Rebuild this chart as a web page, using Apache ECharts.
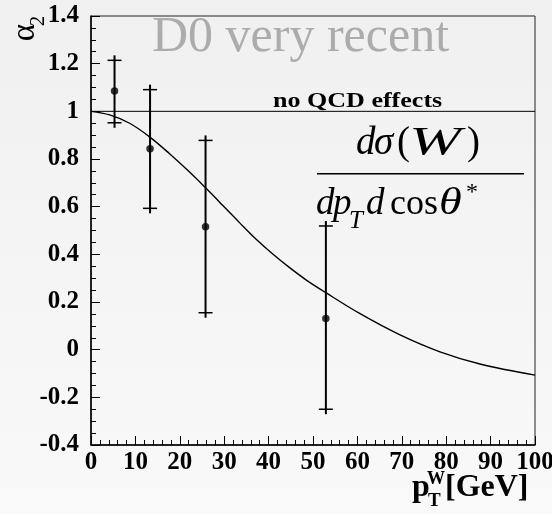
<!DOCTYPE html>
<html>
<head>
<meta charset="utf-8">
<script src="https://cdn.jsdelivr.net/npm/echarts@6/dist/echarts.min.js"></script>
<style>
  html, body { margin: 0; padding: 0; background: #f5f5f5; }
  #chart { width: 552px; height: 514px; }
</style>
</head>
<body>
<div id="chart"></div>
<script>
// Measured alpha_2 points with their error bars (pT of W in GeV)
const pointPt = [5.3, 13.3, 25.8, 52.9];
const pointAlpha = [1.085, 0.843, 0.516, 0.131];
const errLow = [0.952, 0.593, 0.155, -0.25];
const errHigh = [1.214, 1.091, 0.878, 0.519];

// QCD prediction curve
const curvePt = [0, 4.2, 8.7, 13.2, 17.7, 22.2, 25.8, 29.7, 33.5, 37.2, 41.0, 44.8, 48.5, 52.9, 60.5, 69.6, 78.6, 87.6, 100];
const curveAlpha = [1.0, 0.985, 0.950, 0.893, 0.822, 0.745, 0.679, 0.605, 0.532, 0.463, 0.400, 0.343, 0.292, 0.239, 0.152, 0.062, -0.009, -0.060, -0.107];

// "no QCD effects" reference level
const refPt = [0, 100];
const refAlpha = [1, 1];

const SERIF = '"Liberation Serif", "Times New Roman", serif';

// text placed by its baseline
function txt(s, x, base, fs, opt) {
  opt = opt || {};
  return {
    type: 'text',
    x: x,
    y: base - 0.3375 * fs,
    scaleX: opt.scaleX || 1,
    z: 10,
    style: {
      text: s,
      font: (opt.italic ? 'italic ' : '') + (opt.bold ? 'bold ' : '') + fs + 'px ' + SERIF,
      fill: opt.fill || '#000',
      align: 'left',
      verticalAlign: 'middle'
    }
  };
}

const chart = echarts.init(document.getElementById('chart'), null, { renderer: 'canvas' });

const tickLabelStyle = {
  color: '#000',
  fontFamily: SERIF,
  fontWeight: 'bold',
  fontSize: 25
};

chart.setOption({
  animation: false,
  backgroundColor: {
    type: 'linear', x: 0, y: 0, x2: 0, y2: 1,
    colorStops: [{ offset: 0, color: '#f0f0f0' }, { offset: 1, color: '#f9f9f9' }]
  },
  grid: {
    left: 91, right: 17, top: 16, bottom: 69,
    containLabel: false,
    outerBoundsMode: 'none',
    show: true,
    borderColor: '#222',
    borderWidth: 1,
    backgroundColor: 'transparent'
  },
  xAxis: {
    type: 'value',
    min: 0, max: 100, interval: 10,
    axisLine: { show: true, onZero: false, lineStyle: { color: '#000', width: 1.5 } },
    axisTick: { show: true, inside: true, length: 9, lineStyle: { color: '#000', width: 1 } },
    minorTick: { show: true, splitNumber: 5, length: 5, lineStyle: { color: '#000', width: 1 } },
    splitLine: { show: false },
    axisLabel: Object.assign({ margin: 5, showMaxLabel: true, showMinLabel: true }, tickLabelStyle)
  },
  yAxis: {
    type: 'value',
    min: -0.4, max: 1.4, interval: 0.2,
    axisLine: { show: true, onZero: false, lineStyle: { color: '#000', width: 1.5 } },
    axisTick: { show: true, inside: true, length: 9, lineStyle: { color: '#000', width: 1 } },
    minorTick: { show: true, splitNumber: 4, length: 5, lineStyle: { color: '#000', width: 1 } },
    splitLine: { show: false },
    axisLabel: Object.assign({
      margin: 12,
      showMaxLabel: true, showMinLabel: true,
      formatter: v => String(Math.round(v * 10) / 10)
    }, tickLabelStyle)
  },
  series: [
    {
      type: 'line',
      data: refPt.map((x, i) => [x, refAlpha[i]]),
      symbol: 'none',
      lineStyle: { color: '#000', width: 1 },
      z: 2, silent: true
    },
    {
      type: 'line',
      data: curvePt.map((x, i) => [x, curveAlpha[i]]),
      symbol: 'none',
      smooth: 0.35,
      lineStyle: { color: '#000', width: 1.4 },
      z: 2, silent: true
    },
    {
      type: 'custom',
      data: pointPt.map((x, i) => [x, errLow[i], errHigh[i]]),
      encode: { x: 0, y: [1, 2] },
      z: 3,
      renderItem: function (params, api) {
        const lo = api.coord([api.value(0), api.value(1)]);
        const hi = api.coord([api.value(0), api.value(2)]);
        const ext = 5, half = 7;
        const cx = lo[0];
        return {
          type: 'group',
          children: [
            { type: 'line', shape: { x1: cx, y1: hi[1] - ext, x2: cx, y2: lo[1] + ext }, style: { stroke: '#000', lineWidth: 2 } },
            { type: 'line', shape: { x1: cx - half, y1: hi[1], x2: cx + half, y2: hi[1] }, style: { stroke: '#000', lineWidth: 1.5 } },
            { type: 'line', shape: { x1: cx - half, y1: lo[1], x2: cx + half, y2: lo[1] }, style: { stroke: '#000', lineWidth: 1.5 } }
          ]
        };
      }
    },
    {
      type: 'scatter',
      data: pointPt.map((x, i) => [x, pointAlpha[i]]),
      symbol: 'circle',
      symbolSize: 7.5,
      itemStyle: { color: '#000' },
      z: 4
    }
  ],
  graphic: [
    txt('D0 very recent', 152, 55, 50, { fill: '#acacac' }),
    txt('no QCD effects', 273, 108.5, 21, { bold: true, scaleX: 1.24 }),

    // numerator: dσ(W)
    txt('d', 356, 157, 39, { italic: true }),
    txt('σ', 374, 157, 39, { italic: true }),
    txt('(', 397, 157, 39),
    txt('W', 409, 157, 39, { italic: true, scaleX: 1.6 }),
    txt(')', 467, 157, 39),
    { type: 'rect', shape: { x: 317, y: 173, width: 207, height: 1.6 }, style: { fill: '#000' }, z: 10 },
    // denominator: dp_T d cos θ*
    txt('d', 316, 217, 37, { italic: true }),
    txt('p', 333, 217, 37, { italic: true }),
    txt('T', 349, 230, 25, { italic: true }),
    txt('d', 366, 217, 37, { italic: true }),
    txt('cos', 390, 217, 36),
    txt('θ', 439, 217, 37, { italic: true, scaleX: 1.25 }),
    txt('*', 466, 201, 24),

    // y axis title α₂, reading upward
    {
      type: 'text', x: 25.5, y: 32.5, rotation: Math.PI / 2, z: 10,
      style: { text: 'α', font: '33px ' + SERIF, fill: '#000', align: 'center', verticalAlign: 'middle' }
    },
    {
      type: 'text', x: 38, y: 21, rotation: Math.PI / 2, z: 10,
      style: { text: '2', font: '21px ' + SERIF, fill: '#000', align: 'center', verticalAlign: 'middle' }
    },

    // x axis title p_T^W [GeV]
    txt('p', 412, 498.5, 32, { bold: true }),
    txt('W', 427, 485, 18, { bold: true }),
    txt('T', 428, 508, 19, { bold: true }),
    txt('[GeV]', 445, 498.5, 32, { bold: true })
  ]
});
</script>
</body>
</html>
